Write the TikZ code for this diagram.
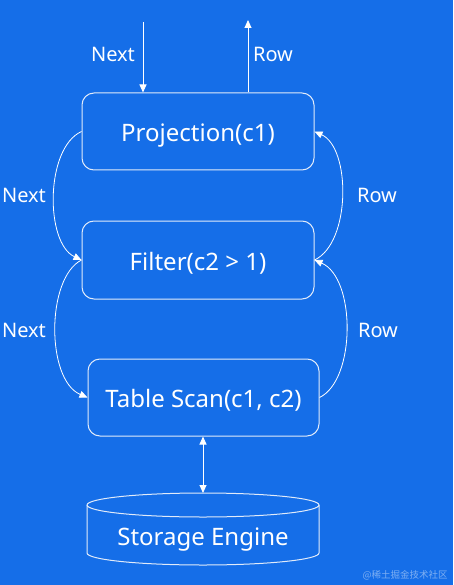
\documentclass[tikz,border=0pt]{standalone}
\usepackage{fontspec}
\setmainfont{Noto Sans}
\newfontfamily\cjk{Noto Sans CJK SC}
\usetikzlibrary{arrows.meta}
\definecolor{bg}{RGB}{21,110,232}
\definecolor{edge}{RGB}{225,235,250}
\begin{document}
\begin{tikzpicture}[x=1pt,y=-1pt,
  opbox/.style={draw=edge,line width=1pt,rounded corners=12pt,minimum width=232pt,minimum height=77pt,inner sep=0pt,text=white,font=\fontsize{24}{28}\selectfont,text height=21pt,text depth=0pt},
  lbl/.style={text=white,font=\fontsize{20}{24}\selectfont,inner sep=0pt,text height=14.3pt,text depth=0pt},
  conn/.style={draw=white,line width=0.9pt,-{Triangle[width=7pt,length=8pt]}},
  curv/.style={draw=white,line width=0.8pt,-{Triangle[width=7pt,length=8pt]}}]
\fill[bg] (0,0) rectangle (453,585);
\useasboundingbox (0,0) rectangle (453,585);
% boxes
\node[opbox] (proj) at (198,131.5) {Projection(c1)};
\node[opbox,minimum height=78pt] (filter) at (198,260) {Filter(c2 > 1)};
\node[opbox,minimum width=231pt,text height=19pt] (scan) at (203.5,397.5) {Table Scan(c1, c2)};
% storage cylinder
\draw[edge,line width=1pt] (87,505) arc[start angle=180,end angle=-180,x radius=116pt,y radius=12pt];
\draw[edge,line width=1pt] (87,505) -- (87,553) arc[start angle=180,end angle=360,x radius=116pt,y radius=12pt] -- (319,505);
\node[text=white,font=\fontsize{24}{28}\selectfont,inner sep=0pt,text height=17.1pt,text depth=0pt] (storage) at (203,536.5) {Storage Engine};
\coordinate (sttop) at (203,493);
% top arrows
\coordinate (nexttop) at (143,22);
\coordinate (rowtop) at (248,20);
\draw[conn] (nexttop) -- (nexttop |- proj.north);
\draw[conn] (rowtop |- proj.north) -- (rowtop);
\draw[draw=white,line width=0.9pt,{Triangle[width=7pt,length=8pt]}-{Triangle[width=7pt,length=8pt]}] (scan.south -| sttop) -- (sttop);
% curved connectors
\draw[curv] (proj.west) .. controls (45,148) and (45,243) .. (filter.west);
\draw[curv] (filter.west) .. controls (46,278) and (46,380) .. (scan.west);
\draw[curv] (filter.east) .. controls (351,243) and (351,148) .. (proj.east);
\draw[curv] (scan.east) .. controls (356,380) and (356,278) .. (filter.east);
% labels
\node[lbl] (l1) at (113,54.5) {Next};
\node[lbl] (l2) at (273,54.5) {Row};
\node[lbl] (l3) at (24,195.5) {Next};
\node[lbl] (l4) at (377,195.5) {Row};
\node[lbl] (l5) at (24,330) {Next};
\node[lbl] (l6) at (378,330) {Row};
\node[text=white,opacity=0.45,font=\cjk\fontsize{9.5}{11}\selectfont,inner sep=0pt] (wm) at (405,575) {@稀土掘金技术社区};
\end{tikzpicture}
\end{document}
